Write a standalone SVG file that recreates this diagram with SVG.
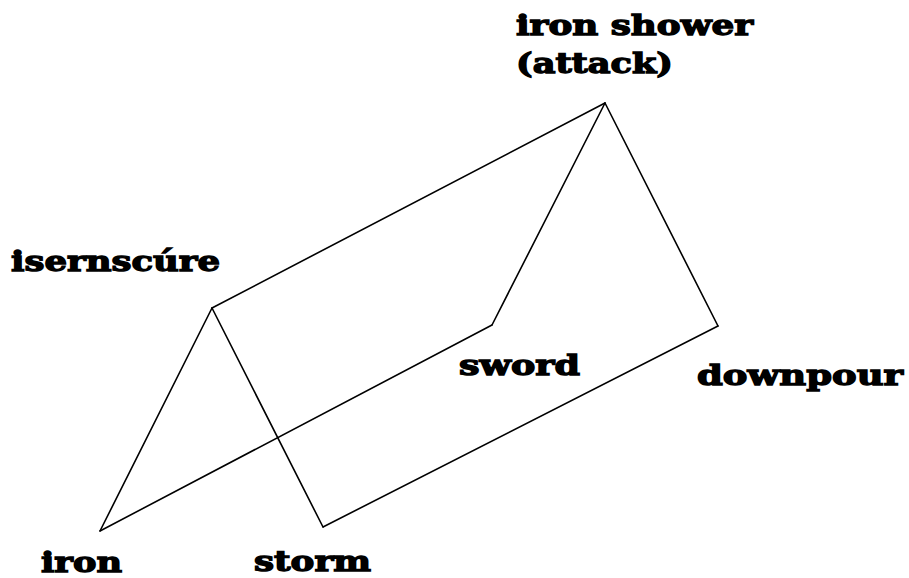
<svg xmlns="http://www.w3.org/2000/svg" width="909" height="578" viewBox="0 0 909 578">
<style>
.l{font-family:"DejaVu Serif","Liberation Serif",serif;font-weight:900;font-size:27px;fill:#000;stroke:#000;stroke-width:1.3px}
.e{stroke:#000;stroke-width:1.6;fill:none;stroke-linecap:round}
</style>
<rect width="909" height="578" fill="#fff"/>
<g id="connectors">
<path class="e" d="M212 308L605 103"/>
<path class="e" d="M605 103L492 325"/>
<path class="e" d="M605 103L718 326"/>
<path class="e" d="M212 308L100 531"/>
<path class="e" d="M212 308L323 527"/>
<path class="e" d="M100 531L492 325"/>
<path class="e" d="M323 527L718 326"/>
</g>
<g id="n-shower"><text class="l" x="516" y="35" textLength="237" lengthAdjust="spacingAndGlyphs">iron shower</text><text class="l" x="516" y="73" textLength="157" lengthAdjust="spacingAndGlyphs">(attack)</text></g>
<g id="n-isern"><text class="l" x="11" y="271" textLength="209" lengthAdjust="spacingAndGlyphs">isernscúre</text></g>
<g id="n-sword"><text class="l" x="459" y="375" textLength="121" lengthAdjust="spacingAndGlyphs">sword</text></g>
<g id="n-downpour"><text class="l" x="697" y="385" textLength="206" lengthAdjust="spacingAndGlyphs">downpour</text></g>
<g id="n-iron"><text class="l" x="41" y="572" textLength="81" lengthAdjust="spacingAndGlyphs">iron</text></g>
<g id="n-storm"><text class="l" x="254" y="571" textLength="117" lengthAdjust="spacingAndGlyphs">storm</text></g>
</svg>
